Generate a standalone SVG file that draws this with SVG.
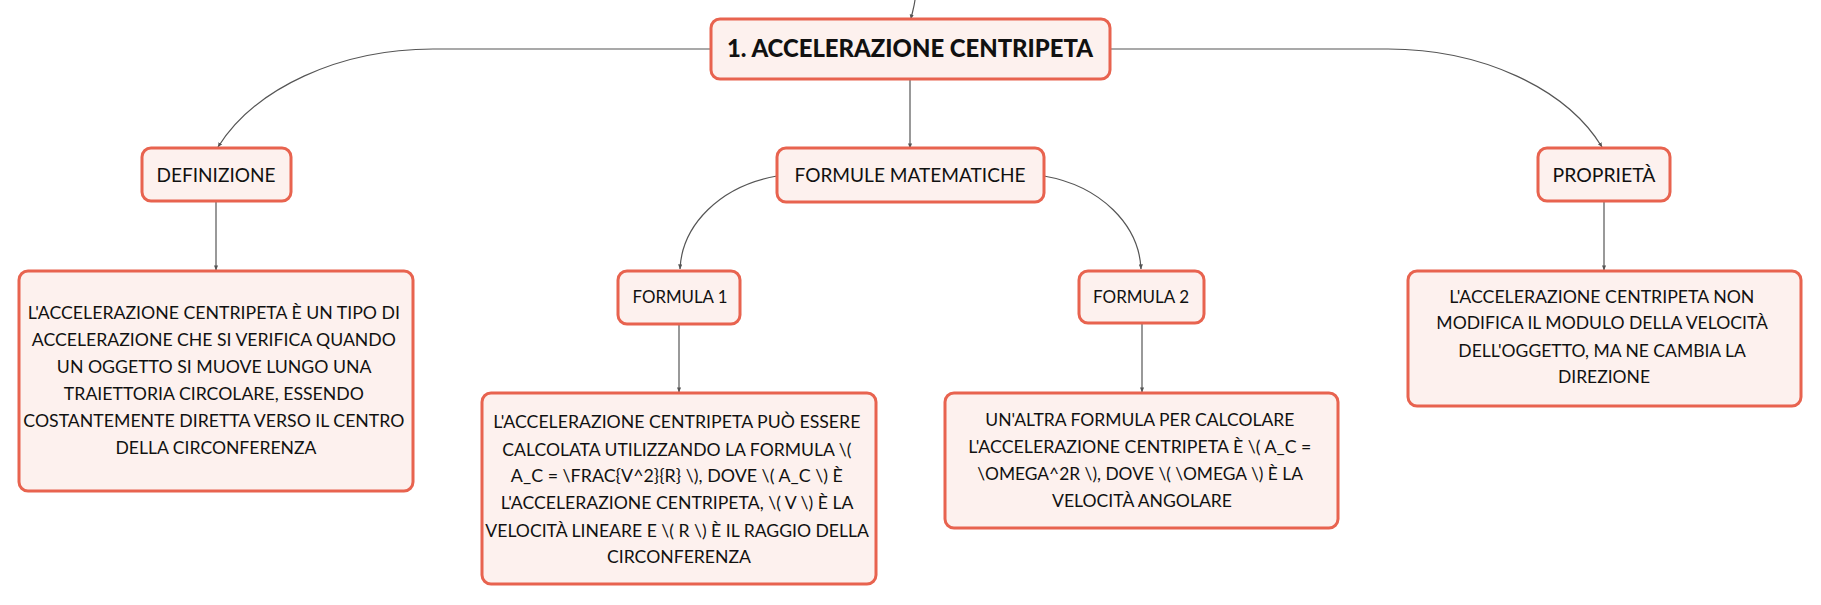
<svg xmlns="http://www.w3.org/2000/svg" width="1821" height="605" viewBox="0 0 1821 605">
<style>
.box{fill:#FDF1EE;stroke:#E8634F;stroke-width:3}
.t{font-family:Lato,"Open Sans","Liberation Sans",sans-serif;fill:#111;text-anchor:middle}
.title{font-size:24px;font-weight:900}
.l2{font-size:19px}
.l3{font-size:17px}
.body{font-size:16.5px}
.c{fill:none;stroke:#555;stroke-width:1.2}
</style>
<defs>
<marker id="ah" viewBox="0 0 6 6" refX="5.5" refY="3" markerWidth="5" markerHeight="5" orient="auto" markerUnits="userSpaceOnUse">
<path d="M0,0.5 L6,3 L0,5.5 Z" fill="#555"/>
</marker>
</defs>
<g id="connectors">
<path class="c" d="M915,0 C914,8 912,13 911,19" marker-end="url(#ah)"/>
<path class="c" d="M910,79 L910,148" marker-end="url(#ah)"/>
<path class="c" d="M711,49 L433,49 C340,49 255,88 218,147" marker-end="url(#ah)"/>
<path class="c" d="M1110,49 L1388,49 C1481,49 1566,88 1602,147" marker-end="url(#ah)"/>
<path class="c" d="M777,176 C720,186 682,225 680,269" marker-end="url(#ah)"/>
<path class="c" d="M1044,176 C1101,186 1139,225 1141,269" marker-end="url(#ah)"/>
<path class="c" d="M216,201 L216,270" marker-end="url(#ah)"/>
<path class="c" d="M679,324 L679,392" marker-end="url(#ah)"/>
<path class="c" d="M1142,323 L1142,392" marker-end="url(#ah)"/>
<path class="c" d="M1604,201 L1604,270" marker-end="url(#ah)"/>
</g>
<g id="main">
<rect class="box" x="711" y="19" width="399" height="60" rx="9"/>
<text class="t title" x="910" y="57" textLength="366" lengthAdjust="spacingAndGlyphs">1. ACCELERAZIONE CENTRIPETA</text>
</g>
<g id="definizione">
<rect class="box" x="142" y="148" width="149" height="53" rx="9"/>
<text class="t l2" x="216" y="182" textLength="119" lengthAdjust="spacingAndGlyphs">DEFINIZIONE</text>
</g>
<g id="formule">
<rect class="box" x="777" y="148" width="267" height="54" rx="9"/>
<text class="t l2" x="910" y="182" textLength="231" lengthAdjust="spacingAndGlyphs">FORMULE MATEMATICHE</text>
</g>
<g id="proprieta">
<rect class="box" x="1538" y="148" width="132" height="53" rx="9"/>
<text class="t l2" x="1604" y="182" textLength="103" lengthAdjust="spacingAndGlyphs">PROPRIETÀ</text>
</g>
<g id="formula1">
<rect class="box" x="618" y="271" width="122" height="53" rx="9"/>
<text class="t l3" x="680" y="303" textLength="95" lengthAdjust="spacingAndGlyphs">FORMULA 1</text>
</g>
<g id="formula2">
<rect class="box" x="1079" y="271" width="125" height="52" rx="9"/>
<text class="t l3" x="1141" y="303" textLength="96" lengthAdjust="spacingAndGlyphs">FORMULA 2</text>
</g>
<g id="definizione-testo">
<rect class="box" x="19" y="271" width="394" height="220" rx="9"/>
<text class="t body">
<tspan x="216" y="319" textLength="372" lengthAdjust="spacingAndGlyphs">L'ACCELERAZIONE CENTRIPETA È UN TIPO DI</tspan>
<tspan x="216" y="346" textLength="364" lengthAdjust="spacingAndGlyphs">ACCELERAZIONE CHE SI VERIFICA QUANDO</tspan>
<tspan x="216" y="373" textLength="314" lengthAdjust="spacingAndGlyphs">UN OGGETTO SI MUOVE LUNGO UNA</tspan>
<tspan x="216" y="400" textLength="300" lengthAdjust="spacingAndGlyphs">TRAIETTORIA CIRCOLARE, ESSENDO</tspan>
<tspan x="216" y="427" textLength="381" lengthAdjust="spacingAndGlyphs">COSTANTEMENTE DIRETTA VERSO IL CENTRO</tspan>
<tspan x="216" y="454" textLength="201" lengthAdjust="spacingAndGlyphs">DELLA CIRCONFERENZA</tspan>
</text>
</g>
<g id="formula1-testo">
<rect class="box" x="482" y="393" width="394" height="191" rx="9"/>
<text class="t body">
<tspan x="679" y="428" textLength="367" lengthAdjust="spacingAndGlyphs">L'ACCELERAZIONE CENTRIPETA PUÒ ESSERE</tspan>
<tspan x="679" y="456" textLength="349" lengthAdjust="spacingAndGlyphs">CALCOLATA UTILIZZANDO LA FORMULA \(</tspan>
<tspan x="679" y="482" textLength="332" lengthAdjust="spacingAndGlyphs">A_C = \FRAC{V^2}{R} \), DOVE \( A_C \) È</tspan>
<tspan x="679" y="509" textLength="352" lengthAdjust="spacingAndGlyphs">L'ACCELERAZIONE CENTRIPETA, \( V \) È LA</tspan>
<tspan x="679" y="537" textLength="383" lengthAdjust="spacingAndGlyphs">VELOCITÀ LINEARE E \( R \) È IL RAGGIO DELLA</tspan>
<tspan x="679" y="563" textLength="144" lengthAdjust="spacingAndGlyphs">CIRCONFERENZA</tspan>
</text>
</g>
<g id="formula2-testo">
<rect class="box" x="945" y="393" width="393" height="135" rx="9"/>
<text class="t body">
<tspan x="1142" y="426" textLength="309" lengthAdjust="spacingAndGlyphs">UN'ALTRA FORMULA PER CALCOLARE</tspan>
<tspan x="1142" y="453" textLength="343" lengthAdjust="spacingAndGlyphs">L'ACCELERAZIONE CENTRIPETA È \( A_C =</tspan>
<tspan x="1142" y="480" textLength="325" lengthAdjust="spacingAndGlyphs">\OMEGA^2R \), DOVE \( \OMEGA \) È LA</tspan>
<tspan x="1142" y="507" textLength="180" lengthAdjust="spacingAndGlyphs">VELOCITÀ ANGOLARE</tspan>
</text>
</g>
<g id="proprieta-testo">
<rect class="box" x="1408" y="271" width="393" height="135" rx="9"/>
<text class="t body">
<tspan x="1604" y="303" textLength="305" lengthAdjust="spacingAndGlyphs">L'ACCELERAZIONE CENTRIPETA NON</tspan>
<tspan x="1604" y="329" textLength="331" lengthAdjust="spacingAndGlyphs">MODIFICA IL MODULO DELLA VELOCITÀ</tspan>
<tspan x="1604" y="357" textLength="287" lengthAdjust="spacingAndGlyphs">DELL'OGGETTO, MA NE CAMBIA LA</tspan>
<tspan x="1604" y="383" textLength="92" lengthAdjust="spacingAndGlyphs">DIREZIONE</tspan>
</text>
</g>
</svg>
